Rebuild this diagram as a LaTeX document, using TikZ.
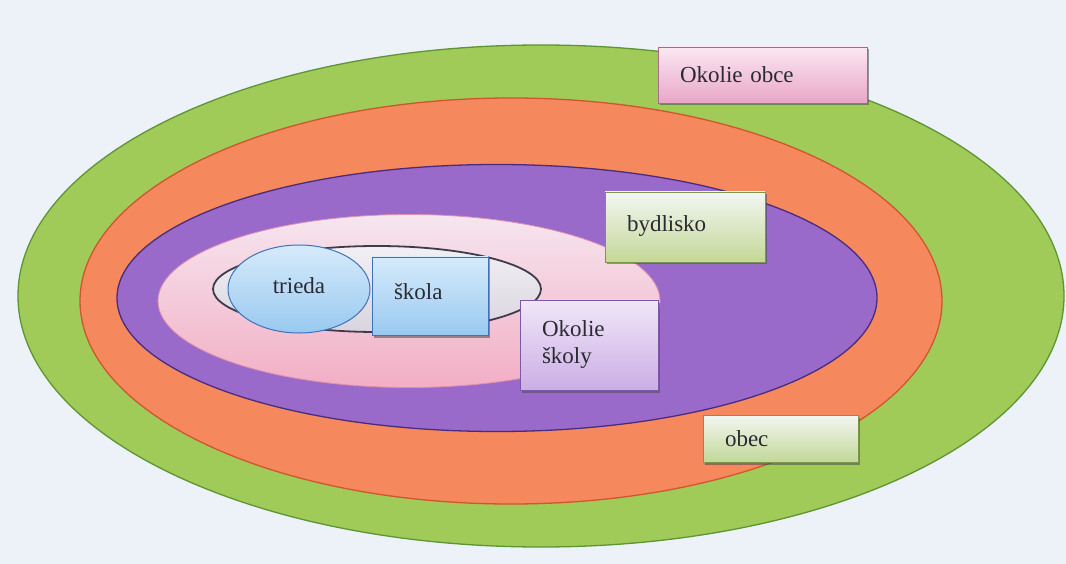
\documentclass[tikz,border=0pt]{standalone}
\usepackage{fontspec}
\setmainfont{Liberation Serif}
\usetikzlibrary{shapes.geometric,shadows}
\definecolor{bgc}{HTML}{EDF2F8}
\definecolor{greenf}{HTML}{A0CB58}
\definecolor{greend}{HTML}{5E9434}
\definecolor{orangef}{HTML}{F5885C}
\definecolor{oranged}{HTML}{D0562E}
\definecolor{purplef}{HTML}{9A6ACB}
\definecolor{purpled}{HTML}{4A2C7E}
\definecolor{pinktop}{HTML}{F6E6EF}
\definecolor{pinkbot}{HTML}{F2AEC4}
\definecolor{pinkd}{HTML}{E08FAE}
\definecolor{graytop}{HTML}{F2F0F4}
\definecolor{graybot}{HTML}{D9D4DF}
\definecolor{grayd}{HTML}{3E3C4C}
\definecolor{bluetop}{HTML}{D6EBFB}
\definecolor{bluebot}{HTML}{99C9F0}
\definecolor{blued}{HTML}{3F72B8}
\definecolor{liltop}{HTML}{F1E6F8}
\definecolor{lilbot}{HTML}{CBAEE5}
\definecolor{lild}{HTML}{7A5AA8}
\definecolor{grntop}{HTML}{F3F6F3}
\definecolor{grnbot}{HTML}{C3D897}
\definecolor{grnd}{HTML}{7C9650}
\definecolor{rosetop}{HTML}{FBE8F1}
\definecolor{rosebot}{HTML}{E9A6C8}
\definecolor{rosed}{HTML}{A86A8A}
\definecolor{txt}{HTML}{2A2A33}
\tikzset{
  ring/.style={ellipse, inner sep=0pt, line width=1.3pt},
  tbox/.style={rectangle, inner xsep=22pt, inner ysep=0pt, align=left,
    line width=0.6pt, text=txt,
    font=\fontsize{23}{27}\selectfont,
    drop shadow={shadow xshift=1.5pt, shadow yshift=-2.5pt, fill=black!70, opacity=0.55}},
}
\begin{document}
\begin{tikzpicture}[x=1pt,y=-1pt]
\useasboundingbox (0,0) rectangle (1066,564);
\fill[bgc] (0,0) rectangle (1066,564);
% concentric ellipses
\node[ring, fill=greenf, draw=greend, minimum width=1046pt, minimum height=502pt] (obecring) at (541,296) {};
\node[ring, fill=orangef, draw=oranged, minimum width=862pt, minimum height=406pt] (okrsring) at (511,301) {};
\node[ring, fill=purplef, draw=purpled, minimum width=760pt, minimum height=267pt] (bydring) at (497,298) {};
\node[ring, top color=pinktop, bottom color=pinkbot, draw=pinkd, line width=0.8pt, minimum width=502pt, minimum height=173pt] (skolring) at (409,301) {};
\node[ring, top color=graytop, bottom color=graybot, draw=grayd, line width=1.8pt, minimum width=328pt, minimum height=86pt] (grayring) at (377,289) {};
% inner shapes
\node[ellipse, inner sep=0pt, top color=bluetop, bottom color=bluebot, draw=blued, line width=1pt,
      minimum width=142pt, minimum height=88pt, text=txt, font=\fontsize{23}{27}\selectfont] (trieda) at (299,289) {\raisebox{6pt}{trieda}};
\node[tbox, top color=bluetop, bottom color=bluebot, draw=blued, text width=72pt, minimum height=78pt] (skola) at (430,296) {\raisebox{10pt}{škola}};
\node[tbox, top color=liltop, bottom color=lilbot, draw=lild, text width=94pt, minimum height=90pt] (okskoly) at (589,345) {Okolie\\školy};
\node[tbox, top color=grntop, bottom color=grnbot, draw=grnd, text width=116pt, minimum height=70pt] (bydlisko) at (685,227) {\raisebox{6pt}{bydlisko}};
\node[tbox, top color=rosetop, bottom color=rosebot, draw=rosed, text width=165pt, minimum height=56pt] (okobce) at (762.5,75) {Okolie obce};
\node[tbox, top color=grntop, bottom color=grnbot, draw=grnd, text width=111pt, minimum height=47pt] (obec) at (780.5,438.5) {obec};
\end{tikzpicture}
\end{document}
